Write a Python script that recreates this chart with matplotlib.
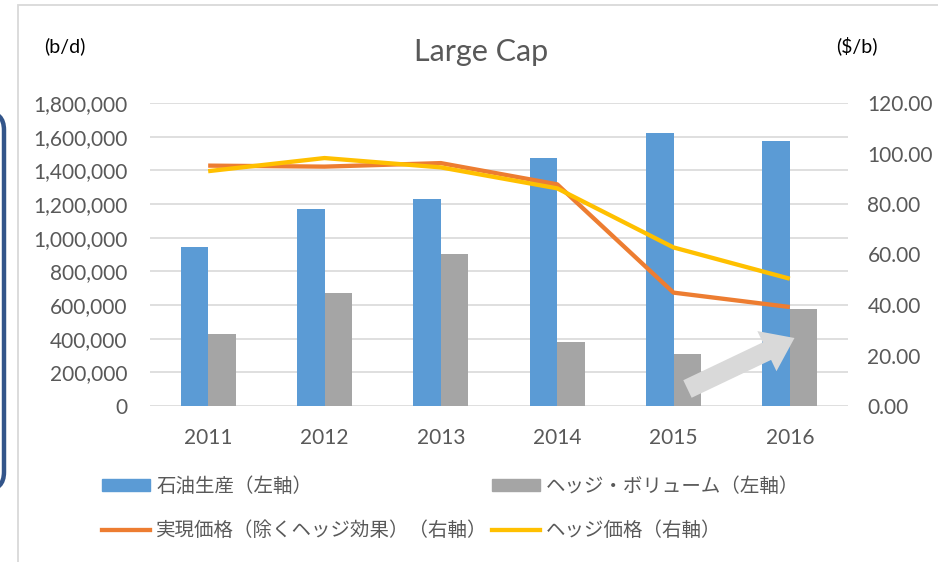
import matplotlib
matplotlib.use("Agg")
import matplotlib.pyplot as plt
import numpy as np
from matplotlib.patches import Rectangle, FancyBboxPatch, Patch
from matplotlib.lines import Line2D
from matplotlib.ticker import FuncFormatter, MultipleLocator
from matplotlib.transforms import IdentityTransform

years = ["2011", "2012", "2013", "2014", "2015", "2016"]
oil_production = [943000, 1170000, 1229000, 1471000, 1620000, 1574000]
hedge_volume = [426000, 669000, 905000, 382000, 309000, 574000]
realized_price = [95.2, 94.8, 96.2, 87.8, 44.9, 39.2]
hedge_price = [93.0, 98.2, 94.5, 86.2, 62.8, 50.4]
labels = ["石油生産（左軸）", "ヘッジ・ボリューム（左軸）",
          "実現価格（除くヘッジ効果）（右軸）", "ヘッジ価格（右軸）"]

BLUE, GREY, ORANGE, YELLOW = "#5b9bd5", "#a5a5a5", "#ed7d31", "#ffc000"
TXT = "#595959"
GRID = "#d9d9d9"
LAT = ["Lato", "DejaVu Sans"]
JP = ["Noto Sans CJK JP", "DejaVu Sans"]

W, H = 938, 562
fig = plt.figure(figsize=(W / 100, H / 100), dpi=100)
fig.patch.set_facecolor("white")

# chart frame and partial shape on the left (pixel coordinates)
fig.patches.append(Rectangle((18, -10), 1000, H - 5 + 10, transform=IdentityTransform(),
                             fill=False, ec=GRID, lw=1.3))
fig.patches.append(FancyBboxPatch((-200, H - 490), 204, 378,
                                  boxstyle="round,pad=0,rounding_size=18",
                                  transform=IdentityTransform(), fill=False,
                                  ec="#33558a", lw=3.2))

ax = fig.add_axes([150 / W, 1 - 406 / H, 698 / W, 303 / H])
x = np.arange(len(years))
bw = 0.236
ax.bar(x - bw / 2, oil_production, bw, color=BLUE, zorder=2)
ax.bar(x + bw / 2, hedge_volume, bw, color=GREY, zorder=2)
ax.set_xlim(-0.5, len(years) - 0.5)
ax.set_ylim(0, 1800000)
ax.yaxis.set_major_locator(MultipleLocator(200000))
ax.yaxis.set_major_formatter(FuncFormatter(lambda v, p: f"{int(v):,}"))
ax.set_xticks(x)
ax.set_xticklabels(years)
ax.grid(axis="y", color=GRID, lw=1.2, zorder=0)
ax.set_axisbelow(True)
for s in ax.spines.values():
    s.set_visible(False)
ax.tick_params(axis="both", length=0, colors=TXT, labelsize=15)
ax.tick_params(axis="y", pad=16)
ax.tick_params(axis="x", pad=16)
for t in ax.get_xticklabels() + ax.get_yticklabels():
    t.set_family(LAT)

ax2 = ax.twinx()
ax2.plot(x, realized_price, color=ORANGE, lw=3.1, solid_capstyle="butt", zorder=3)
ax2.plot(x, hedge_price, color=YELLOW, lw=3.1, solid_capstyle="butt", zorder=4)
ax2.set_ylim(0, 120)
ax2.yaxis.set_major_locator(MultipleLocator(20))
ax2.yaxis.set_major_formatter(FuncFormatter(lambda v, p: f"{v:.2f}"))
for s in ax2.spines.values():
    s.set_visible(False)
ax2.tick_params(axis="y", length=0, colors=TXT, labelsize=15, pad=14)
for t in ax2.get_yticklabels():
    t.set_family(LAT)

# arrow annotation
ax.annotate("", xy=(5.04, 404000), xytext=(4.12, 101000),
            arrowprops=dict(arrowstyle="simple,head_length=1.1,head_width=1.6,tail_width=0.7",
                            fc="#d9d9d9", ec="none", mutation_scale=20, shrinkA=0, shrinkB=0),
            zorder=5)

fig.text(481 / W, 1 - 52 / H, "Large Cap", ha="center", va="center", fontsize=22,
         color=TXT, family=LAT)
fig.text(65 / W, 1 - 46 / H, "(b/d)", ha="center", va="center", fontsize=14, color="black", family=LAT)
fig.text(857 / W, 1 - 46 / H, "($/b)", ha="center", va="center", fontsize=14, color="black", family=LAT)

handles = [Patch(color=BLUE), Line2D([], [], color=ORANGE, lw=3.1),
           Patch(color=GREY), Line2D([], [], color=YELLOW, lw=3.1)]
leg_labels = [labels[0], labels[2], labels[1], labels[3]]
leg = fig.legend(handles, leg_labels, ncol=2, loc="upper left",
                 bbox_to_anchor=(92 / W, 1 - 466 / H), frameon=False,
                 prop={"family": JP, "size": 14}, handlelength=2.5, handleheight=0.6,
                 handletextpad=0.3, columnspacing=0.2, labelspacing=1.2, borderpad=0)
for t in leg.get_texts():
    t.set_color(TXT)

fig.savefig("out.png", dpi=100, facecolor="white")
